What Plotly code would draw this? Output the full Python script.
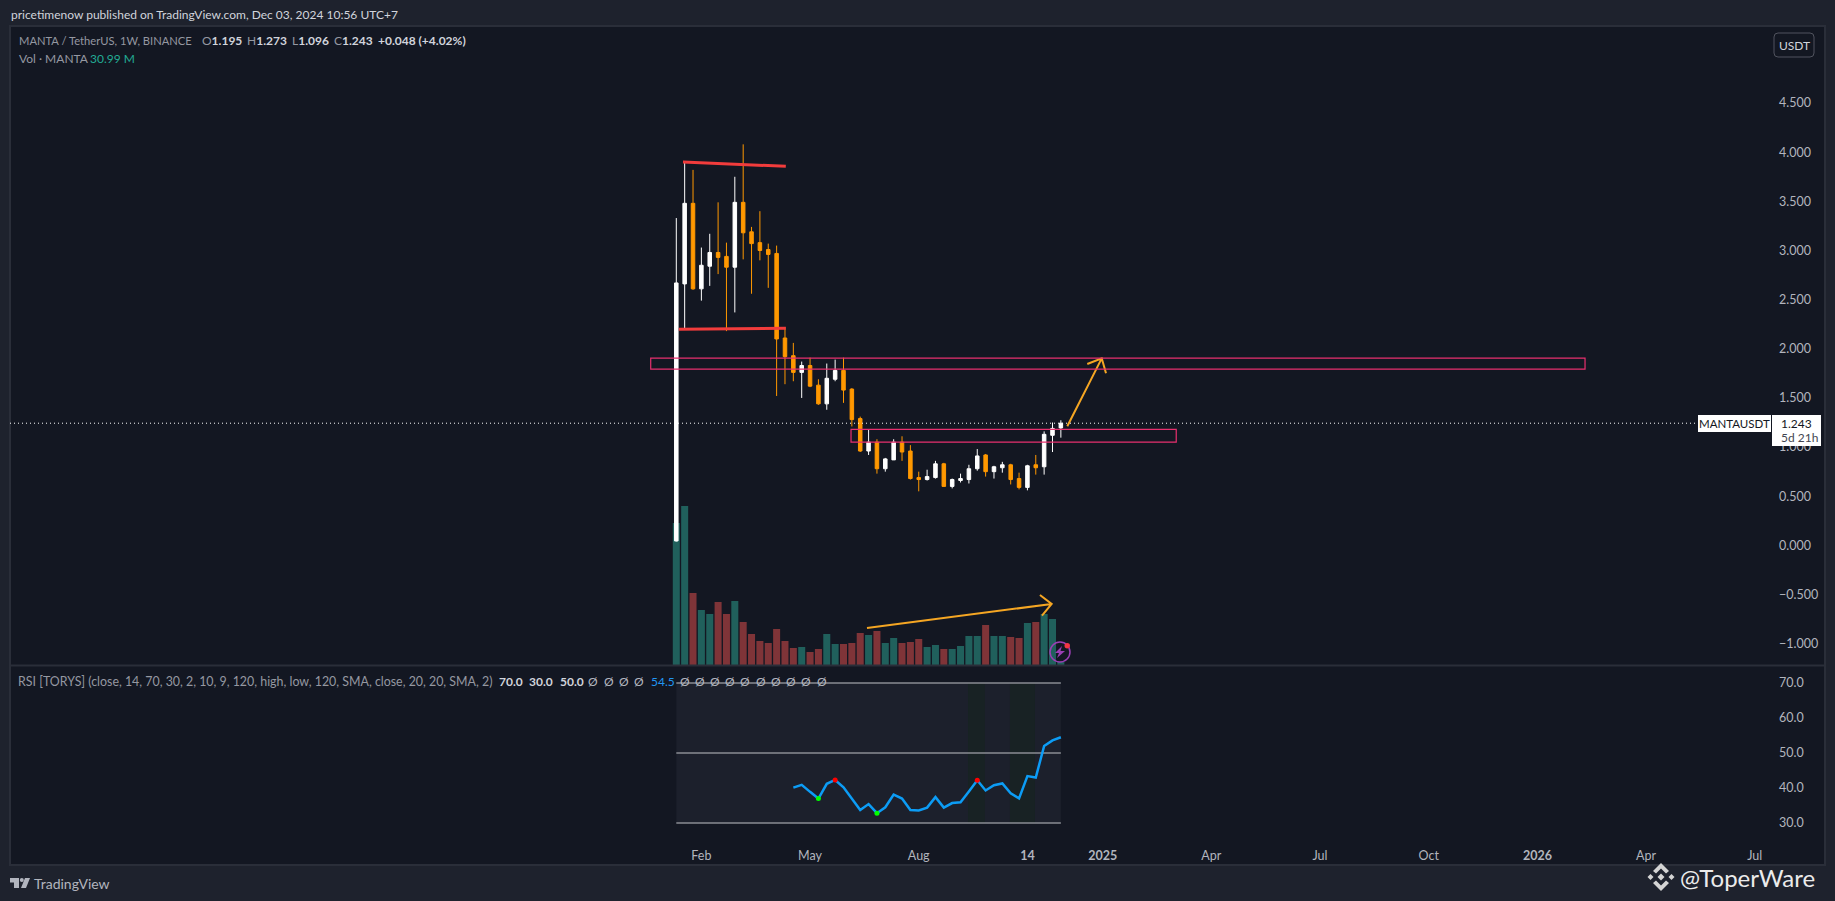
import pandas as pd
import plotly.graph_objects as go

W, H = 1835, 901
FONT = "Lato"

# -----------------------------
# weekly candles MANTA/USDT
# -----------------------------
first_week = pd.Timestamp("2024-01-15")
weeks = pd.date_range(first_week, periods=47, freq="7D")

opens = [0.045, 2.66, 3.48, 2.61, 2.84, 2.98, 2.94, 2.83, 3.49, 3.19, 3.08, 3.01, 2.97, 2.11, 1.93, 1.76,
         1.83, 1.63, 1.44, 1.69, 1.78, 1.59, 1.29, 0.96, 1.05, 0.78, 0.87, 1.05, 0.96, 0.69, 0.67, 0.69,
         0.83, 0.60, 0.66, 0.67, 0.78, 0.92, 0.75, 0.79, 0.82, 0.68, 0.59, 0.82, 0.80, 1.12, 1.195]
highs = [3.33, 3.89, 3.82, 3.03, 3.17, 3.49, 3.08, 3.75, 4.08, 3.24, 3.40, 3.07, 3.05, 2.22, 2.06, 1.87,
         1.91, 1.69, 1.85, 1.89, 1.91, 1.60, 1.31, 1.18, 1.08, 0.89, 1.08, 1.11, 1.02, 0.75, 0.77, 0.86,
         0.84, 0.68, 0.73, 0.82, 0.98, 0.93, 0.81, 0.85, 0.83, 0.74, 0.82, 0.92, 1.16, 1.25, 1.273]
lows = [0.04, 2.20, 2.60, 2.49, 2.64, 2.76, 2.18, 2.37, 2.91, 2.56, 2.90, 2.62, 1.52, 1.64, 1.67, 1.50,
        1.61, 1.43, 1.38, 1.67, 1.45, 1.21, 0.95, 0.92, 0.73, 0.75, 0.87, 0.86, 0.67, 0.55, 0.66, 0.68,
        0.60, 0.58, 0.64, 0.63, 0.76, 0.70, 0.68, 0.74, 0.62, 0.57, 0.56, 0.72, 0.72, 0.95, 1.096]
closes = [2.67, 3.48, 2.61, 2.85, 2.98, 2.93, 2.83, 3.49, 3.18, 3.07, 3.00, 2.96, 2.10, 1.92, 1.76, 1.83,
          1.62, 1.44, 1.70, 1.78, 1.58, 1.28, 0.96, 1.05, 0.78, 0.88, 1.05, 0.95, 0.68, 0.67, 0.70, 0.83,
          0.60, 0.67, 0.68, 0.78, 0.91, 0.75, 0.80, 0.82, 0.67, 0.59, 0.81, 0.79, 1.13, 1.19, 1.243]

# volume in millions
volumes = [1420, 1590, 720, 550, 510, 630, 510, 640, 430, 310, 240, 220, 360, 240, 170, 180,
           130, 160, 310, 210, 210, 220, 320, 300, 340, 220, 270, 220, 230, 260, 180, 200,
           160, 160, 190, 290, 290, 400, 290, 290, 280, 270, 420, 430, 510, 460, 31]

# RSI starts at week 14
rsi_values = [40.1, 40.9, 38.9, 37.0, 41.2, 42.3, 40.2, 36.9, 33.7, 35.4, 32.8, 34.5, 38.1, 37.0, 33.7, 33.6,
              34.4, 37.4, 34.4, 35.7, 35.9, 39.0, 42.2, 39.3, 40.8, 41.3, 38.5, 37.0, 43.4, 43.0, 52.0, 53.6, 54.5]
rsi_start = 14
rsi_low_pivots = [17, 24]
rsi_high_pivots = [19, 36]
rsi_green_bands = [(34.9, 36.9), (39.9, 42.9)]

price_ticks = [4.5, 4.0, 3.5, 3.0, 2.5, 2.0, 1.5, 1.0, 0.5, 0.0, -0.5, -1.0]
rsi_ticks = [70, 60, 50, 40, 30]
time_ticks = ["2024-02-05", "2024-05-06", "2024-08-05", "2024-11-04", "2025-01-06", "2025-04-07",
              "2025-07-07", "2025-10-06", "2026-01-05", "2026-04-06", "2026-07-06"]
time_labels = ["Feb", "May", "Aug", "<b>14</b>", "<b>2025</b>", "Apr", "Jul", "Oct", "<b>2026</b>", "Apr", "Jul"]

# drawings (week number, price)
top_line_w, top_line_p = [0.8, 13.1], [3.90, 3.856]
bottom_line_w, bottom_line_p = [0.3, 13.1], [2.198, 2.21]
arrow_w = [46.77, 50.89, 49.16, 50.89, 51.4]
arrow_p = [1.212, 1.903, 1.845, 1.903, 1.751]
vol_arrow_w = [22.81, 44.9, 43.5, 44.9, 43.74]
vol_arrow_p = [-0.84, -0.596, -0.505, -0.596, -0.715]
zone_high = (-3.06, 108.7, 1.793, 1.905)
zone_low = (20.9, 59.8, 1.05, 1.18)
last_price = 1.243


def week_date(w):
    return first_week + pd.Timedelta(days=7 * w)


def fx(px):
    return px / W


def fy(py):
    return 1 - py / H


def poly(points):
    return "M" + "L".join(f"{fx(a)},{fy(b)}" for a, b in points) + "Z"


def rounded(x0, y0, x1, y1, r):
    return (f"M{fx(x0 + r)},{fy(y0)}L{fx(x1 - r)},{fy(y0)}Q{fx(x1)},{fy(y0)} {fx(x1)},{fy(y0 + r)}"
            f"L{fx(x1)},{fy(y1 - r)}Q{fx(x1)},{fy(y1)} {fx(x1 - r)},{fy(y1)}"
            f"L{fx(x0 + r)},{fy(y1)}Q{fx(x0)},{fy(y1)} {fx(x0)},{fy(y1 - r)}"
            f"L{fx(x0)},{fy(y0 + r)}Q{fx(x0)},{fy(y0)} {fx(x0 + r)},{fy(y0)}Z")


fig = go.Figure()

# -----------------------------
# volume, candles, rsi
# -----------------------------
vol_colors = ["#20605c" if c >= o else "#7f3438" for o, c in zip(opens, closes)]
fig.add_trace(go.Bar(x=weeks, y=volumes, marker=dict(color=vol_colors, line_width=0),
                     yaxis="y", hoverinfo="skip"))

fig.add_trace(go.Candlestick(
    x=weeks, open=opens, high=highs, low=lows, close=closes, yaxis="y2",
    increasing=dict(line=dict(color="#ffffff", width=1), fillcolor="#ffffff"),
    decreasing=dict(line=dict(color="#ff9800", width=1), fillcolor="#ff9800"),
    whiskerwidth=0, hoverinfo="skip"))

fig.add_trace(go.Scatter(x=weeks[rsi_start:], y=rsi_values, mode="lines", yaxis="y3",
                         line=dict(color="#0c9cf5", width=2.5), hoverinfo="skip"))
for pivots, colour in [(rsi_low_pivots, "#00ff00"), (rsi_high_pivots, "#ff0000")]:
    fig.add_trace(go.Scatter(x=[weeks[i] for i in pivots], y=[rsi_values[i - rsi_start] for i in pivots],
                             mode="markers", yaxis="y3", marker=dict(color=colour, size=5), hoverinfo="skip"))

# -----------------------------
# drawings
# -----------------------------
for ws, ps, colour, width in [(top_line_w, top_line_p, "#f23c3c", 3), (bottom_line_w, bottom_line_p, "#f23c3c", 3),
                              (arrow_w, arrow_p, "#f5a623", 2), (vol_arrow_w, vol_arrow_p, "#f5a623", 2)]:
    fig.add_trace(go.Scatter(x=[week_date(w) for w in ws], y=ps, mode="lines", yaxis="y2",
                             line=dict(color=colour, width=width), hoverinfo="skip"))

shapes = []
# frame and pane separator
shapes.append(dict(type="rect", xref="paper", yref="paper", x0=fx(10), x1=fx(1825), y0=fy(865), y1=fy(26),
                   fillcolor="#131722", line=dict(color="#2a2e39", width=2), layer="below"))
shapes.append(dict(type="line", xref="paper", yref="paper", x0=fx(10), x1=fx(1825), y0=fy(665.5), y1=fy(665.5),
                   line=dict(color="#2a2e39", width=2)))

for z in [zone_high, zone_low]:
    shapes.append(dict(type="rect", xref="x", yref="y2", x0=week_date(z[0]), x1=week_date(z[1]), y0=z[2], y1=z[3],
                       line=dict(color="#e8306f", width=1.2), fillcolor="rgba(0,0,0,0)"))

shapes.append(dict(type="line", xref="paper", yref="y2", x0=fx(10), x1=fx(1698), y0=last_price, y1=last_price,
                   line=dict(color="#ffffff", width=1, dash="1px,3px")))

# rsi background
shapes.append(dict(type="rect", xref="x", yref="y3", x0=week_date(0), x1=week_date(46), y0=30, y1=70,
                   fillcolor="#1c202c", line_width=0, layer="below"))
for a, b in rsi_green_bands:
    shapes.append(dict(type="rect", xref="x", yref="y3", x0=week_date(a), x1=week_date(b), y0=30, y1=70,
                       fillcolor="#182224", line_width=0, layer="below"))
for level in [70, 50, 30]:
    shapes.append(dict(type="line", xref="x", yref="y3", x0=week_date(0), x1=week_date(46), y0=level, y1=level,
                       line=dict(color="#8a8d93", width=1.5), layer="below"))

# usdt button
shapes.append(dict(type="path", xref="paper", yref="paper", path=rounded(1774, 33, 1814, 57, 4),
                   line=dict(color="#50535e", width=1), fillcolor="#131722"))

# lightning icon
shapes.append(dict(type="circle", xref="paper", yref="paper", x0=fx(1050), x1=fx(1070), y0=fy(662), y1=fy(642),
                   line=dict(color="#9b3fb4", width=1.5)))
shapes.append(dict(type="path", xref="paper", yref="paper", line_width=0, fillcolor="#9b3fb4",
                   path=poly([(1062, 646), (1055, 653), (1059, 653), (1057, 658), (1065, 651), (1060.5, 651)])))
shapes.append(dict(type="circle", xref="paper", yref="paper", x0=fx(1064.5), x1=fx(1070), y0=fy(648.5), y1=fy(643),
                   fillcolor="#f23645", line_width=0))

# tradingview logo
shapes.append(dict(type="path", xref="paper", yref="paper", line_width=0, fillcolor="#b2b5be",
                   path=poly([(10, 878), (19, 878), (19, 888), (14, 888), (14, 882.5), (10, 882.5)])))
shapes.append(dict(type="circle", xref="paper", yref="paper", x0=fx(19.8), x1=fx(23.8), y0=fy(882), y1=fy(878),
                   fillcolor="#b2b5be", line_width=0))
shapes.append(dict(type="path", xref="paper", yref="paper", line_width=0, fillcolor="#b2b5be",
                   path=poly([(25, 878), (30, 878), (26, 888), (21, 888)])))

# binance logo
cx, cy = 1661, 877
logo_parts = [
    [(0, -14), (8, -6), (5, -3.5), (0, -8.5), (-5, -3.5), (-8, -6)],
    [(0, 14), (8, 6), (5, 3.5), (0, 8.5), (-5, 3.5), (-8, 6)],
    [(0, -3.5), (3.5, 0), (0, 3.5), (-3.5, 0)],
    [(-10.5, -3), (-7.5, 0), (-10.5, 3), (-13.5, 0)],
    [(10.5, -3), (13.5, 0), (10.5, 3), (7.5, 0)],
]
for part in logo_parts:
    shapes.append(dict(type="path", xref="paper", yref="paper", line_width=0, fillcolor="#d4d4d4",
                       path=poly([(cx + a, cy + b) for a, b in part])))

# -----------------------------
# texts
# -----------------------------
notes = []


def note(px, py, text, size=12, colour="#b2b5be", anchor="left", **kw):
    notes.append(dict(xref="paper", yref="paper", x=fx(px), y=fy(py), text=text, showarrow=False,
                      xanchor=anchor, yanchor="middle", font=dict(family=FONT, size=size, color=colour),
                      borderpad=0, **kw))


grey = "#9598a1"
white = "#d1d4dc"
note(10, 15, "pricetimenow published on TradingView.com, Dec 03, 2024 10:56 UTC+7", colour=white)
note(18, 41, "MANTA / TetherUS, 1W, BINANCE", size=11.2, colour=grey)
for px, lab, val in [(201, "O", "1.195"), (246, "H", "1.273"), (291, "L", "1.096"), (333, "C", "1.243")]:
    note(px, 41, f"<span style='color:{grey}'>{lab}</span><b>{val}</b>", colour=white)
note(377, 41, "<b>+0.048 (+4.02%)</b>", colour=white)
note(18, 59, "Vol · MANTA", colour=grey)
note(89, 59, "30.99 M", colour="#22ab94")
note(1794, 45, "USDT", colour=white, anchor="center")

note(17, 681, "RSI [TORYS] (close, 14, 70, 30, 2, 10, 9, 120, high, low, 120, SMA, close, 20, 20, SMA, 2)",
     size=12.4, colour=grey)
for px, val in [(498, "70.0"), (528, "30.0"), (559, "50.0")]:
    note(px, 681, f"<b>{val}</b>", colour=white)
note(650, 681, "54.5", colour="#2196f3")
for px in [593, 608.5, 624, 639, 685, 700, 715, 730, 745, 761, 776, 791, 806, 822]:
    note(px, 681, "Ø", colour="#b2b5be", anchor="center")

# last price labels
shapes.append(dict(type="rect", xref="paper", yref="paper", x0=fx(1698), x1=fx(1771), y0=fy(432), y1=fy(415),
                   fillcolor="#ffffff", line_width=0))
shapes.append(dict(type="rect", xref="paper", yref="paper", x0=fx(1772), x1=fx(1821), y0=fy(446), y1=fy(415),
                   fillcolor="#ffffff", line_width=0))
note(1734.5, 423.5, "MANTAUSDT", size=11.5, colour="#131722", anchor="center")
note(1780, 423.5, "1.243", colour="#131722")
note(1780, 437.5, "5d 21h", colour="#434651")

note(33, 883, "TradingView", size=14, colour="#b2b5be")
note(1679, 877, "@ToperWare", size=24, colour="#ebebeb")

# -----------------------------
# layout
# -----------------------------
pane_left, pane_right = 10, 1772
main_top, main_bottom = 27, 665
rsi_top, rsi_bottom = 666, 836


# price scale 98.3 px per 1.0, zero at y=545.4
def price_at(py):
    return (545.4 - py) / 98.3


def rsi_at(py):
    return 70 - (py - 683) / 3.5


axis_font = dict(family=FONT, size=12.5, color="#b2b5be")

fig.update_layout(
    width=W, height=H, autosize=False,
    margin=dict(l=0, r=0, t=0, b=0),
    paper_bgcolor="#1e222d", plot_bgcolor="#131722",
    showlegend=False, bargap=0.16, boxgap=0.4, dragmode=False,
    shapes=shapes, annotations=notes,
    xaxis=dict(
        domain=[fx(pane_left), fx(pane_right)], anchor="y3", type="date",
        range=[week_date((pane_left - 676.3) / 8.36), week_date((pane_right - 676.3) / 8.36)],
        tickvals=time_ticks, ticktext=time_labels, tickfont=axis_font, ticks="", ticklabelstandoff=10,
        showgrid=False, zeroline=False, showline=False, rangeslider=dict(visible=False),
    ),
    # volume behind the candles, same pane
    yaxis=dict(domain=[fy(main_bottom), fy(main_top)], range=[0, (main_bottom - main_top) * 10],
               visible=False, fixedrange=True),
    yaxis2=dict(domain=[fy(main_bottom), fy(main_top)], overlaying="y", side="right", anchor="x",
                range=[price_at(main_bottom), price_at(main_top)],
                tickvals=price_ticks, ticktext=[f"{p:.3f}".replace("-", "−") for p in price_ticks],
                tickfont=axis_font, ticks="", ticklabelstandoff=6,
                showgrid=False, zeroline=False, showline=False),
    yaxis3=dict(domain=[fy(rsi_bottom), fy(rsi_top)], side="right", anchor="x",
                range=[rsi_at(rsi_bottom), rsi_at(rsi_top)],
                tickvals=rsi_ticks, ticktext=[f"{v:.1f}" for v in rsi_ticks],
                tickfont=axis_font, ticks="", ticklabelstandoff=6,
                showgrid=False, zeroline=False, showline=False),
)

fig.write_html("out.html", config=dict(displayModeBar=False),
               post_script="document.body.style.margin='0';document.body.style.overflow='hidden';")
